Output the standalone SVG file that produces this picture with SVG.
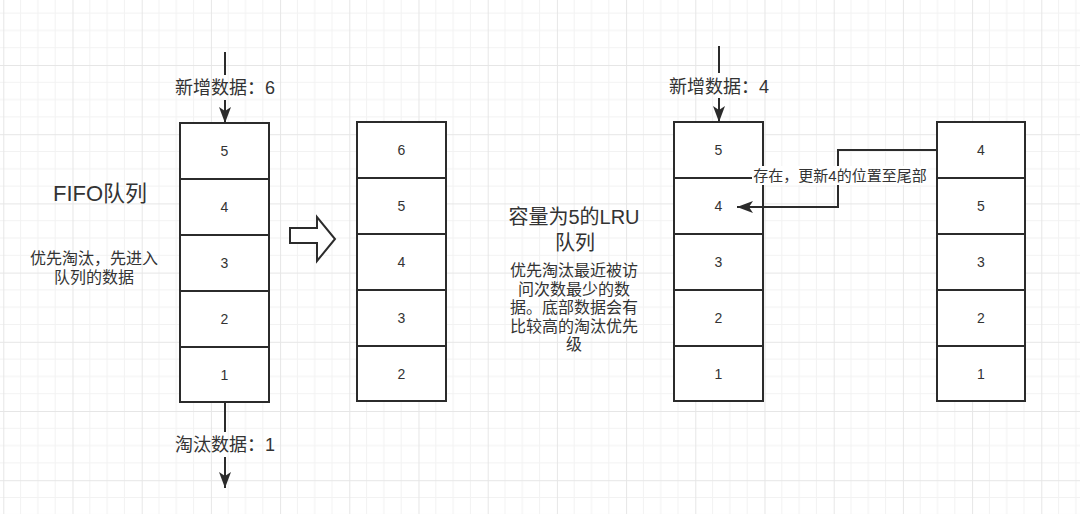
<svg xmlns="http://www.w3.org/2000/svg" width="1080" height="514" viewBox="0 0 1080 514">
<style>
.cell{fill:#fff;stroke:#2b2b2b;stroke-width:2}
.num{font-family:"Liberation Sans","Noto Sans CJK SC",sans-serif;font-size:14px;fill:#333;text-anchor:middle;dominant-baseline:central}
.lbl{font-family:"Liberation Sans","Noto Sans CJK SC",sans-serif;font-size:18px;fill:#333;text-anchor:middle;dominant-baseline:central}
.title{font-family:"Liberation Sans","Noto Sans CJK SC",sans-serif;font-size:22px;fill:#333;text-anchor:middle;dominant-baseline:central}
.small{font-family:"Liberation Sans","Noto Sans CJK SC",sans-serif;font-size:16px;fill:#333;text-anchor:middle;dominant-baseline:central}
.elbl{font-family:"Liberation Sans","Noto Sans CJK SC",sans-serif;font-size:15px;fill:#333;text-anchor:middle;dominant-baseline:central}
.edge{fill:none;stroke:#2b2b2b;stroke-width:2}
</style>
<defs>
<pattern id="grid" x="3.3" y="-4.2" width="69.2" height="69.2" patternUnits="userSpaceOnUse">
<path d="M17.3 0V69.2M34.6 0V69.2M51.9 0V69.2M0 17.3H69.2M0 34.6H69.2M0 51.9H69.2" stroke="#f2f2f2" stroke-width="1" fill="none"/>
<path d="M0.5 0V69.2M0 0.5H69.2" stroke="#e6e6e6" stroke-width="1" fill="none"/>
</pattern>
<marker id="ah" markerUnits="userSpaceOnUse" markerWidth="17" markerHeight="12" refX="16" refY="6" orient="auto">
<path d="M0 0L16 6L0 12L4 6Z" fill="#2b2b2b"/>
</marker>
</defs>
<rect width="1080" height="514" fill="#fff"/>
<rect width="1080" height="514" fill="url(#grid)"/>

<g id="fifo-title"><text class="title" x="100" y="193">FIFO队列</text></g>
<g id="fifo-desc">
<text class="small" x="94" y="258">优先淘汰，先进入</text>
<text class="small" x="94" y="277">队列的数据</text>
</g>

<g id="col1">
<g id="c1-5"><rect class="cell" x="180" y="123" width="89" height="56"/><text class="num" x="224.5" y="151">5</text></g>
<g id="c1-4"><rect class="cell" x="180" y="179" width="89" height="56"/><text class="num" x="224.5" y="207">4</text></g>
<g id="c1-3"><rect class="cell" x="180" y="235" width="89" height="56"/><text class="num" x="224.5" y="263">3</text></g>
<g id="c1-2"><rect class="cell" x="180" y="291" width="89" height="56"/><text class="num" x="224.5" y="319">2</text></g>
<g id="c1-1"><rect class="cell" x="180" y="347" width="89" height="55"/><text class="num" x="224.5" y="375">1</text></g>
</g>

<g id="col2">
<g id="c2-6"><rect class="cell" x="357" y="122" width="89" height="56"/><text class="num" x="401.5" y="150">6</text></g>
<g id="c2-5"><rect class="cell" x="357" y="178" width="89" height="56"/><text class="num" x="401.5" y="206">5</text></g>
<g id="c2-4"><rect class="cell" x="357" y="234" width="89" height="56"/><text class="num" x="401.5" y="262">4</text></g>
<g id="c2-3"><rect class="cell" x="357" y="290" width="89" height="56"/><text class="num" x="401.5" y="318">3</text></g>
<g id="c2-2"><rect class="cell" x="357" y="346" width="89" height="55"/><text class="num" x="401.5" y="374">2</text></g>
</g>

<g id="hollow-arrow">
<path d="M290 228H317V217L335 239L317 261V243H290Z" fill="#fff" stroke="#2b2b2b" stroke-width="2" stroke-linejoin="miter"/>
</g>

<g id="lru-title">
<text class="title" x="574" y="217" style="font-size:20px">容量为5的LRU</text>
<text class="title" x="575" y="243" style="font-size:20px">队列</text>
</g>
<g id="lru-desc">
<text class="small" x="574" y="270">优先淘汰最近被访</text>
<text class="small" x="574" y="289">问次数最少的数</text>
<text class="small" x="574" y="307">据。底部数据会有</text>
<text class="small" x="574" y="326">比较高的淘汰优先</text>
<text class="small" x="574" y="344">级</text>
</g>

<g id="col3">
<g id="c3-5"><rect class="cell" x="674" y="122" width="89" height="56"/><text class="num" x="718.5" y="150">5</text></g>
<g id="c3-4"><rect class="cell" x="674" y="178" width="89" height="56"/><text class="num" x="718.5" y="206">4</text></g>
<g id="c3-3"><rect class="cell" x="674" y="234" width="89" height="56"/><text class="num" x="718.5" y="262">3</text></g>
<g id="c3-2"><rect class="cell" x="674" y="290" width="89" height="56"/><text class="num" x="718.5" y="318">2</text></g>
<g id="c3-1"><rect class="cell" x="674" y="346" width="89" height="55"/><text class="num" x="718.5" y="374">1</text></g>
</g>

<g id="col4">
<g id="c4-4"><rect class="cell" x="937" y="122" width="88" height="56"/><text class="num" x="981" y="150">4</text></g>
<g id="c4-5"><rect class="cell" x="937" y="178" width="88" height="56"/><text class="num" x="981" y="206">5</text></g>
<g id="c4-3"><rect class="cell" x="937" y="234" width="88" height="56"/><text class="num" x="981" y="262">3</text></g>
<g id="c4-2"><rect class="cell" x="937" y="290" width="88" height="56"/><text class="num" x="981" y="318">2</text></g>
<g id="c4-1"><rect class="cell" x="937" y="346" width="88" height="55"/><text class="num" x="981" y="374">1</text></g>
</g>

<g id="connectors">
<path class="edge" d="M225 52V75"/>
<path class="edge" d="M225 100V123" marker-end="url(#ah)"/>
<path class="edge" d="M225 402V432"/>
<path class="edge" d="M225 457V488" marker-end="url(#ah)"/>
<path class="edge" d="M719 46V73"/>
<path class="edge" d="M719 98V122" marker-end="url(#ah)"/>
<path class="edge" d="M937 150H838V207H737" marker-end="url(#ah)"/>
</g>

<g id="edge-labels">
<text class="lbl" x="225" y="88">新增数据：6</text>
<text class="lbl" x="225" y="445">淘汰数据：1</text>
<text class="lbl" x="719" y="87">新增数据：4</text>
<rect x="752" y="166" width="176" height="19" fill="#fff"/>
<text class="elbl" x="840" y="175">存在，更新4的位置至尾部</text>
</g>
</svg>
